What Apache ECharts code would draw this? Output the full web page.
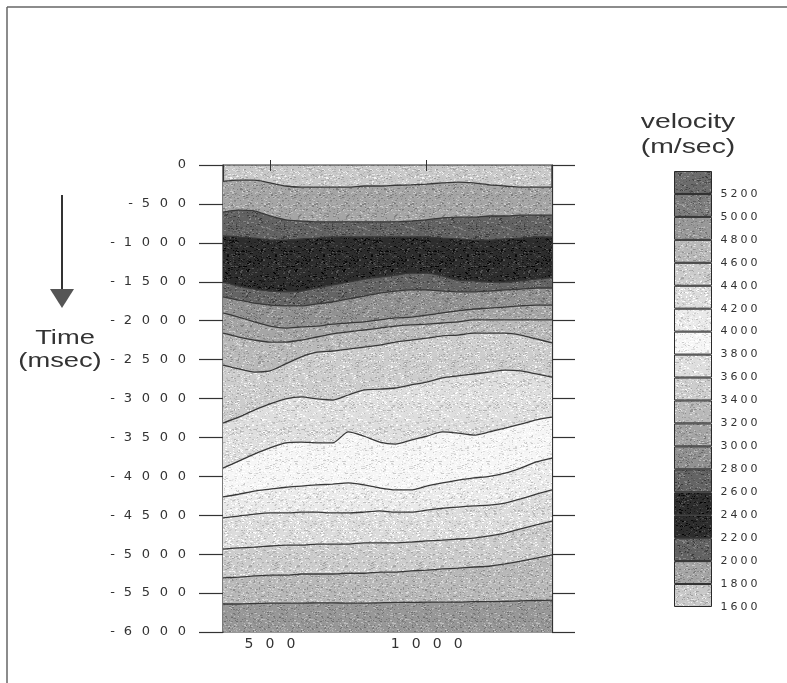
<!DOCTYPE html>
<html>
<head>
<meta charset="utf-8">
<script src="https://cdn.jsdelivr.net/npm/echarts@6/dist/echarts.min.js"></script>
<style>
  html, body { margin: 0; padding: 0; background: #fff; }
  #chart { width: 787px; height: 683px; }
</style>
</head>
<body>
<div id="chart"></div>
<script>
// sample positions along the profile
var xPos = [350, 400, 450, 500, 550, 600, 650, 700, 750, 800, 850, 900, 950, 1000, 1050, 1100, 1150, 1200, 1250, 1300, 1350, 1400];

// contour lines (time in msec)
var c1800 = [-210, -195, -195, -230, -270, -285, -285, -285, -285, -270, -270, -260, -255, -245, -230, -220, -230, -255, -270, -285, -285, -285];
var c2000 = [-605, -580, -590, -655, -705, -720, -730, -730, -730, -730, -730, -730, -720, -705, -680, -670, -670, -655, -655, -645, -645, -645];
var c2200 = [-910, -925, -940, -965, -965, -950, -940, -925, -925, -925, -925, -925, -925, -925, -940, -950, -965, -965, -950, -940, -925, -925];
var c2600 = [-1505, -1555, -1595, -1620, -1630, -1620, -1580, -1540, -1505, -1465, -1440, -1415, -1390, -1390, -1425, -1480, -1490, -1505, -1505, -1490, -1465, -1450];
var c2800 = [-1695, -1735, -1775, -1800, -1810, -1810, -1785, -1760, -1720, -1685, -1645, -1620, -1605, -1605, -1620, -1630, -1630, -1620, -1605, -1595, -1580, -1580];
var c3000 = [-1900, -1955, -2015, -2070, -2095, -2080, -2070, -2045, -2030, -2015, -1990, -1965, -1955, -1930, -1900, -1875, -1850, -1840, -1825, -1810, -1800, -1800];
var c3200 = [-2160, -2210, -2250, -2275, -2275, -2250, -2210, -2170, -2145, -2120, -2095, -2070, -2055, -2045, -2030, -2015, -1990, -1990, -1990, -1990, -1990, -1990];
var c3400 = [-2570, -2620, -2660, -2645, -2555, -2465, -2405, -2390, -2365, -2340, -2315, -2275, -2250, -2225, -2195, -2185, -2160, -2160, -2160, -2185, -2235, -2285];
var c3600 = [-3315, -3240, -3150, -3070, -3005, -2980, -3005, -3020, -2955, -2890, -2880, -2865, -2825, -2790, -2735, -2710, -2685, -2660, -2635, -2645, -2685, -2725];
var c3800 = [-3895, -3805, -3715, -3635, -3570, -3560, -3570, -3570, -3430, -3485, -3560, -3585, -3535, -3485, -3430, -3445, -3470, -3430, -3380, -3330, -3275, -3240];
var c4000 = [-4265, -4230, -4190, -4165, -4140, -4125, -4110, -4100, -4085, -4110, -4150, -4175, -4175, -4125, -4085, -4050, -4020, -4000, -3960, -3895, -3815, -3765];
var c4200 = [-4535, -4510, -4485, -4470, -4470, -4460, -4460, -4470, -4470, -4460, -4445, -4460, -4460, -4435, -4410, -4395, -4380, -4370, -4345, -4290, -4230, -4175];
var c4400 = [-4935, -4920, -4910, -4895, -4885, -4885, -4870, -4870, -4870, -4855, -4855, -4855, -4845, -4830, -4820, -4805, -4795, -4765, -4730, -4675, -4625, -4575];
var c4600 = [-5305, -5295, -5280, -5270, -5270, -5255, -5255, -5255, -5245, -5245, -5230, -5230, -5215, -5205, -5190, -5180, -5165, -5155, -5125, -5090, -5050, -5010];
var c4800 = [-5640, -5640, -5635, -5630, -5630, -5630, -5625, -5625, -5630, -5630, -5625, -5620, -5620, -5615, -5615, -5615, -5610, -5610, -5605, -5600, -5595, -5590];

// velocity classes (m/sec), lower bound of each band, and their grey
var bandLow = [1600, 1800, 2000, 2200, 2400, 2600, 2800, 3000, 3200, 3400, 3600, 3800, 4000, 4200, 4400, 4600, 4800, 5000, 5200];
var bandGrey = [200, 165, 98, 45, 45, 100, 145, 165, 185, 205, 222, 246, 234, 220, 204, 184, 152, 125, 108];
var bandStep = 200;

var contours = [
  { level: 1800, t: c1800 }, { level: 2000, t: c2000 }, { level: 2200, t: c2200 },
  { level: 2600, t: c2600 }, { level: 2800, t: c2800 }, { level: 3000, t: c3000 },
  { level: 3200, t: c3200 }, { level: 3400, t: c3400 }, { level: 3600, t: c3600 },
  { level: 3800, t: c3800 }, { level: 4000, t: c4000 }, { level: 4200, t: c4200 },
  { level: 4400, t: c4400 }, { level: 4600, t: c4600 }, { level: 4800, t: c4800 }
];

var ink = '#333';
var font = 'Liberation Sans, Arial, sans-serif';
var digitFont = 'DejaVu Sans, sans-serif';

// grainy fill like the printed scan (fixed seed so it is the same every time)
var seed = 12345;
function grain() {
  seed = (seed * 1103515245 + 12345) % 2147483648;
  return seed / 2147483648;
}
function stipple(g) {
  var cv = document.createElement('canvas');
  cv.width = 48; cv.height = 48;
  var ctx = cv.getContext('2d');
  ctx.fillStyle = 'rgb(' + g + ',' + g + ',' + g + ')';
  ctx.fillRect(0, 0, 48, 48);
  for (var i = 0; i < 700; i++) {
    var d = Math.round((grain() - 0.5) * 90);
    var v = Math.max(0, Math.min(255, g + d));
    ctx.fillStyle = 'rgb(' + v + ',' + v + ',' + v + ')';
    ctx.fillRect(Math.floor(grain() * 48), Math.floor(grain() * 48), 1 + Math.floor(grain() * 2), 1);
  }
  return { image: cv, repeat: 'repeat' };
}
var bandFill = bandGrey.map(stipple);

function fillOf(level) {
  return bandFill[bandLow.indexOf(level)];
}

// the scanned labels are widely spaced, so each character gets its own box
function spaced(v) {
  return String(v).split('').map(function (c) {
    return (c === '-' ? '{m|' : '{d|') + c + '}';
  }).join('');
}

var chart = echarts.init(document.getElementById('chart'));

var series = contours.map(function (c) {
  return {
    type: 'line',
    xAxisIndex: 0,
    yAxisIndex: 0,
    data: xPos.map(function (x, i) { return [x, c.t[i]]; }),
    showSymbol: false,
    smooth: 0.25,
    silent: true,
    lineStyle: { color: '#383838', width: 1.3 },
    areaStyle: { color: fillOf(c.level), opacity: 1, origin: 'start' }
  };
});

// colour bar: transparent base then one stacked block per class
series.push({
  type: 'bar', xAxisIndex: 2, yAxisIndex: 2, stack: 'cb', silent: true,
  data: [bandLow[0]], barWidth: '100%', itemStyle: { color: 'transparent' }
});
bandLow.forEach(function (lo, i) {
  series.push({
    type: 'bar', xAxisIndex: 2, yAxisIndex: 2, stack: 'cb', silent: true,
    data: [bandStep], barWidth: '100%',
    itemStyle: { color: bandFill[i], borderColor: '#2a2a2a', borderWidth: 1 }
  });
});

var option = {
  animation: false,
  backgroundColor: '#fff',
  textStyle: { fontFamily: font, color: ink },
  grid: [
    { left: 223, top: 165, width: 329, height: 467, show: true, backgroundColor: bandFill[0], borderColor: ink, borderWidth: 1.2, z: 0 },
    { left: 674, top: 171, width: 38, height: 436 }
  ],
  xAxis: [
    {
      type: 'value', gridIndex: 0, min: 350, max: 1400, position: 'bottom',
      axisLine: { show: false },
      splitLine: { show: false },
      axisTick: { show: true, inside: false, length: 6, customValues: [500, 1000], lineStyle: { color: ink } },
      axisLabel: {
        margin: 5, customValues: [500, 1000],
        formatter: function (v) { return spaced(v); },
        rich: {
          d: { width: 21, align: 'center', fontSize: 14, color: ink, fontFamily: digitFont },
          m: { width: 12, align: 'center', fontSize: 14, color: ink, fontFamily: digitFont }
        }
      }
    },
    {
      type: 'value', gridIndex: 0, min: 350, max: 1400, position: 'top',
      axisLine: { show: false },
      splitLine: { show: false },
      axisTick: { show: true, inside: false, length: 5, customValues: [500, 1000], lineStyle: { color: ink } },
      axisLabel: { show: false }
    },
    {
      type: 'category', gridIndex: 1, data: ['v'], show: false
    }
  ],
  yAxis: [
    {
      type: 'value', gridIndex: 0, min: -6000, max: 0, interval: 500, position: 'left',
      axisLine: { show: true, lineStyle: { color: ink, width: 1.2 } },
      splitLine: { show: false },
      axisTick: { show: true, inside: false, length: 24, lineStyle: { color: ink, width: 1.2 } },
      axisLabel: {
        margin: 32,
        formatter: function (v) { return spaced(v); },
        rich: {
          d: { width: 18, align: 'center', fontSize: 13, color: ink, fontFamily: digitFont },
          m: { width: 13, align: 'center', fontSize: 13, color: ink, fontFamily: digitFont }
        }
      }
    },
    {
      type: 'value', gridIndex: 0, min: -6000, max: 0, interval: 500, position: 'right',
      axisLine: { show: true, lineStyle: { color: ink, width: 1.2 } },
      splitLine: { show: false },
      axisTick: { show: true, inside: false, length: 23, lineStyle: { color: ink, width: 1.2 } },
      axisLabel: { show: false }
    },
    {
      type: 'value', gridIndex: 1, min: 1600, max: 5400, interval: 200, position: 'right',
      axisLine: { show: false },
      splitLine: { show: false },
      axisTick: { show: false },
      axisLabel: {
        margin: 7,
        formatter: function (v) { return v === 5400 ? '' : spaced(v); },
        rich: {
          d: { width: 10, align: 'center', fontSize: 11, color: ink, fontFamily: digitFont },
          m: { width: 8, align: 'center', fontSize: 11, color: ink, fontFamily: digitFont }
        }
      }
    }
  ],
  graphic: [
    // scan frame
    { type: 'line', shape: { x1: 7, y1: 7, x2: 787, y2: 7 }, style: { stroke: '#666', lineWidth: 1.5 }, silent: true },
    { type: 'line', shape: { x1: 7, y1: 7, x2: 7, y2: 683 }, style: { stroke: '#666', lineWidth: 1.5 }, silent: true },
    // time arrow
    { type: 'line', shape: { x1: 62, y1: 195, x2: 62, y2: 292 }, style: { stroke: ink, lineWidth: 2 }, silent: true },
    { type: 'polygon', shape: { points: [[50, 289], [74, 289], [62, 308]] }, style: { fill: '#555' }, silent: true },
    { type: 'text', x: 65, y: 338, scaleX: 1.3, style: { text: 'Time', x: 0, y: 0, align: 'center', verticalAlign: 'middle', fontSize: 21, fontFamily: font, fill: ink }, silent: true },
    { type: 'text', x: 60, y: 361, scaleX: 1.3, style: { text: '(msec)', x: 0, y: 0, align: 'center', verticalAlign: 'middle', fontSize: 21, fontFamily: font, fill: ink }, silent: true },
    { type: 'text', x: 688, y: 122, scaleX: 1.35, style: { text: 'velocity', x: 0, y: 0, align: 'center', verticalAlign: 'middle', fontSize: 21, fontFamily: font, fill: ink }, silent: true },
    { type: 'text', x: 688, y: 147, scaleX: 1.35, style: { text: '(m/sec)', x: 0, y: 0, align: 'center', verticalAlign: 'middle', fontSize: 21, fontFamily: font, fill: ink }, silent: true }
  ],
  series: series
};

chart.setOption(option);
</script>
</body>
</html>
